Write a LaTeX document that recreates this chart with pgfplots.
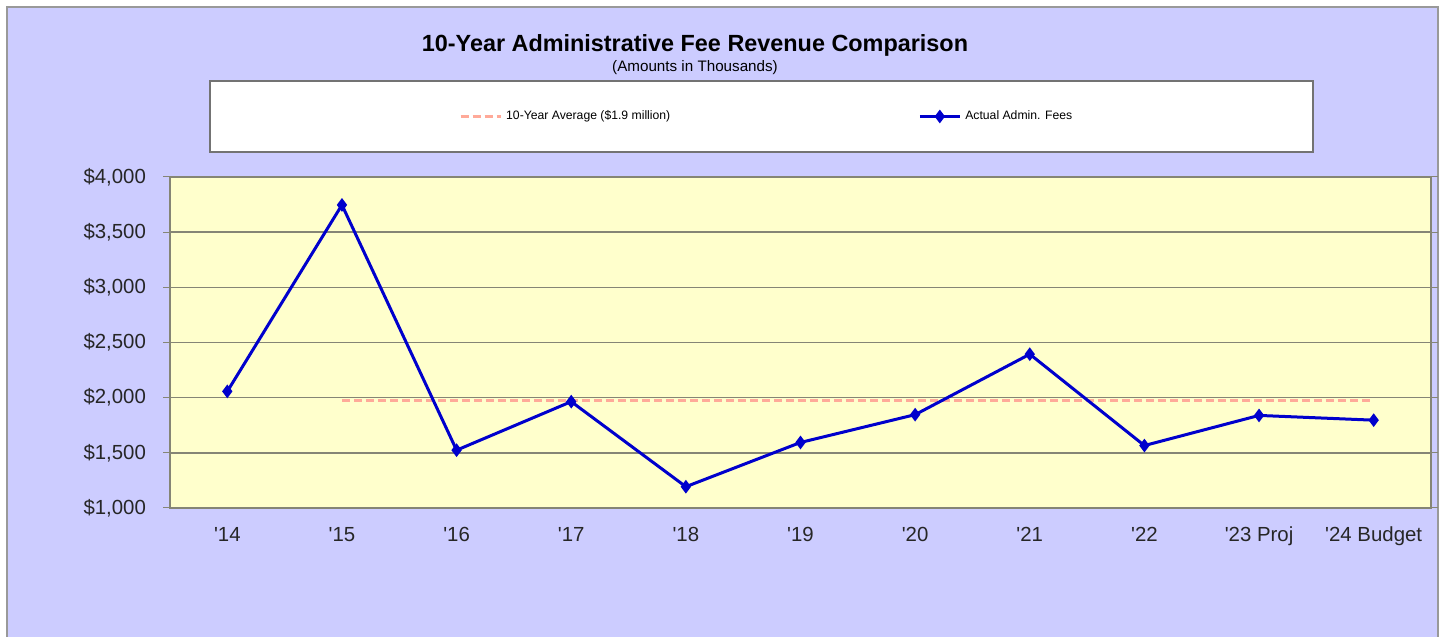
\documentclass[border=0pt]{standalone}
\usepackage{pgfplots}
\pgfplotsset{compat=1.18}
\usepackage{fontspec}
\setmainfont{Liberation Sans}
\definecolor{lav}{HTML}{CCCCFF}
\definecolor{plotbg}{HTML}{FFFFCC}
\definecolor{avgc}{HTML}{FFAA99}
\definecolor{linec}{HTML}{0000CC}
\definecolor{gridc}{HTML}{858575}
\newcommand{\q}{\textquotesingle}
\begin{document}
\begin{tikzpicture}[x=0.5pt,y=0.5pt]
\useasboundingbox (0,0) rectangle (1447,637);
\fill[white] (0,0) rectangle (1447,637);
\draw[fill=lav,draw=gray!80,line width=0.8pt] (7,-10) rectangle (1438,630);
\node[font=\fontsize{11.7}{13}\selectfont\bfseries] at (695,592) {10-Year Administrative Fee Revenue Comparison};
\node[font=\fontsize{7.6}{9}\selectfont] at (695,569) {(Amounts in Thousands)};
\draw[fill=white,draw=gray!90!black,line width=0.6pt] (210,485) rectangle (1313,556);
\begin{axis}[
  at={(170pt*0.5,129pt*0.5)}, anchor=south west,
  scale only axis, width=630.5pt, height=165.5pt,
  xmin=-0.5, xmax=10.5, ymin=1000, ymax=4000,
  axis background/.style={fill=plotbg},
  axis line style={draw=gridc, line width=0.6pt},
  xtick={0,...,10},
  xticklabels={\q14,\q15,\q16,\q17,\q18,\q19,\q20,\q21,\q22,\q23 Proj,\q24 Budget},
  major x tick style={draw=none},
  extra x ticks={-0.5,0.5,1.5,2.5,3.5,4.5,5.5,6.5,7.5,8.5,9.5,10.5},
  extra x tick labels={},
  extra x tick style={tick style={draw=gridc,line width=0.5pt}, major tick length=3pt, tick align=outside, grid=none},
  ytick={1000,1500,...,4000},
  yticklabels={\$1{,}000,\$1{,}500,\$2{,}000,\$2{,}500,\$3{,}000,\$3{,}500,\$4{,}000},
  ymajorgrids, major grid style={draw=gridc, line width=0.7pt},
  ytick style={draw=gridc,line width=0.5pt}, tick align=outside, major tick length=3.5pt,
  tick label style={font=\fontsize{10.2}{12}\selectfont, text=black!85},
  xticklabel style={yshift=-2.5pt},
  yticklabel style={xshift=-5pt},
  legend columns=2,
  legend style={at={(0.474,1.1828)}, anchor=center, draw=none, fill=none,
    font=\fontsize{6.1}{7}\selectfont, /tikz/every even column/.append style={column sep=122pt}},
  legend image code/.code={\draw[mark repeat=2,mark phase=2,#1] plot coordinates {(0pt,0pt) (10pt,0pt) (20pt,0pt)};},
  legend cell align=left,
  clip=false,
]
\addplot[avgc, line width=1.5pt, dash pattern=on 4pt off 2pt] coordinates {(1,1970) (10,1970)};
\addlegendentry{10-Year Average (\$1.9 million)}
\addplot[linec, line width=1.5pt, mark=diamond*, mark size=2.2pt, mark options={solid}] coordinates {
(0,2057) (1,3747) (2,1524) (3,1964) (4,1193) (5,1594) (6,1846) (7,2394) (8,1566) (9,1839) (10,1796)};
\addlegendentry{Actual Admin. Fees}
\end{axis}
\end{tikzpicture}
\end{document}
